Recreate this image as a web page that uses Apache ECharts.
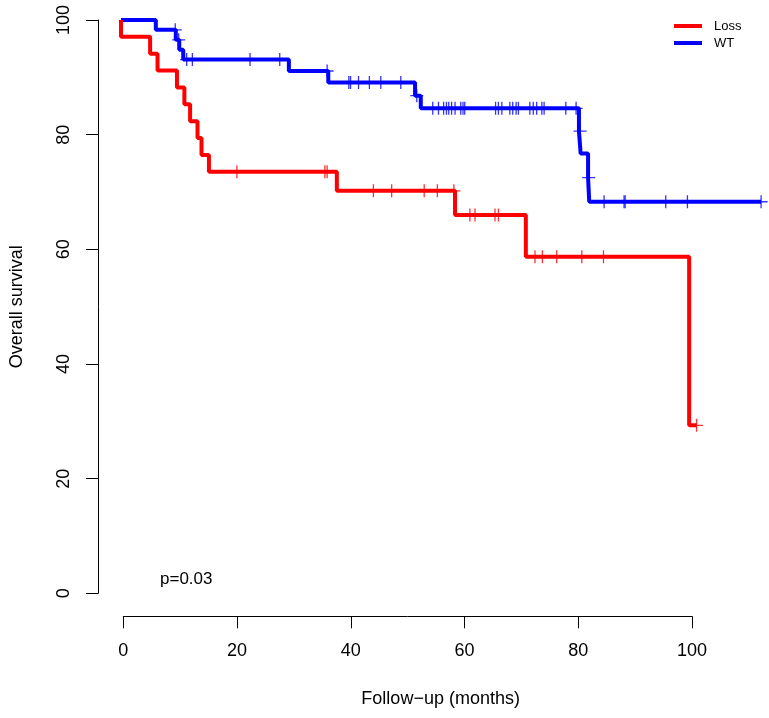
<!DOCTYPE html>
<html>
<head>
<meta charset="utf-8">
<script src="https://cdn.jsdelivr.net/npm/echarts@6/dist/echarts.min.js"></script>
<style>
  html, body { margin: 0; padding: 0; background: #ffffff; }
  #chart { width: 769px; height: 718px; }
</style>
</head>
<body>
<div id="chart"></div>
<script>
// ---- Data ----
const xTicks = [0, 20, 40, 60, 80, 100];
const yTicks = [0, 20, 40, 60, 80, 100];

const lossEventTimes = [0, 5.1, 6.4, 9.8, 11.1, 12.1, 13.4, 14.1, 15.4, 37.8, 58.5, 70.9, 99.5];
const lossEventSurv  = [97.06, 94.12, 91.18, 88.24, 85.29, 82.35, 79.41, 76.47, 73.53, 70.2, 66.0, 58.7, 29.3];
const lossCensorTimes = [20.3, 35.7, 36.1, 44.2, 47.4, 53.1, 55.4, 58.3, 61.1, 62.0, 65.5, 66.1,
                         72.5, 73.8, 76.3, 80.7, 84.5, 100.8];

const wtEventTimes = [6.1, 9.6, 10.2, 10.9, 29.4, 36.3, 51.5, 52.5, 80.2, 80.5, 81.8, 82.0];
const wtEventSurv  = [98.28, 96.55, 94.83, 93.10, 91.1, 89.1, 86.8, 84.6, 80.6, 76.7, 72.5, 68.3];
const wtCensorTimes = [9.5, 10.1, 11.5, 12.5, 22.6, 27.8, 36.1, 39.9, 40.2, 41.6, 43.5, 45.5, 49.0, 51.8,
                       54.6, 55.6, 56.5, 57.0, 57.4, 57.9, 58.5, 59.5, 59.9, 60.2,
                       65.6, 66.1, 66.7, 68.1, 68.6, 69.2, 69.6, 71.6, 72.2, 72.8, 73.7, 74.1,
                       77.9, 79.7, 80.4, 81.9, 84.6, 88.1, 88.3, 95.4, 99.2, 112.1];

const groupNames = ['Loss', 'WT'];
const groupColors = ['#FF0000', '#0000FF'];
const pValueText = 'p=0.03';
const xTitle = 'Follow\u2212up (months)';
const yTitle = 'Overall survival';

// ---- Helpers ----
function survAt(times, surv, t) {
  let s = 100;
  for (let i = 0; i < times.length; i++) { if (times[i] <= t) s = surv[i]; }
  return s;
}
function curve(times, surv, censors) {
  const pts = [[0, 100]];
  for (let i = 0; i < times.length; i++) pts.push([times[i], surv[i]]);
  const last = Math.max(times[times.length - 1], ...censors);
  pts.push([last, surv[surv.length - 1]]);
  return pts;
}
function censorPts(times, surv, censors) {
  return censors.map(t => [t, survAt(times, surv, t)]);
}

const plusPath = 'path://M-0.1,-1L0.1,-1L0.1,-0.1L1,-0.1L1,0.1L0.1,0.1L0.1,1L-0.1,1L-0.1,0.1L-1,0.1L-1,-0.1L-0.1,-0.1Z';
const FONT = '"Liberation Sans", Arial, Helvetica, sans-serif';

// Both grids share the same px-per-month scale (571 px for 100 months).
const CHART_W = 769;
const GRID_LEFT = 121;
const AXIS_W = 571;
const DATA_XMAX = (CHART_W - GRID_LEFT) / AXIS_W * 100;

const chart = echarts.init(document.getElementById('chart'), null, { renderer: 'canvas' });

chart.setOption({
  animation: false,
  backgroundColor: '#ffffff',
  textStyle: { fontFamily: FONT, color: '#000' },
  grid: [
    { left: GRID_LEFT, top: 20, right: 0, height: 573.3, containLabel: false },
    { left: GRID_LEFT, top: 20, width: AXIS_W, height: 573.3, containLabel: false }
  ],
  legend: {
    data: groupNames,
    orient: 'vertical',
    left: 669,
    top: 14,
    icon: 'rect',
    itemWidth: 28,
    itemHeight: 4,
    itemGap: 3,
    textStyle: { fontFamily: FONT, fontSize: 13, color: '#000', lineHeight: 14, padding: [0, 0, 0, 7] },
    selectedMode: false
  },
  xAxis: [
    { type: 'value', gridIndex: 0, min: 0, max: DATA_XMAX, show: false },
    {
      type: 'value', gridIndex: 1,
      min: xTicks[0],
      max: xTicks[xTicks.length - 1],
      interval: 20,
      offset: 23,
      name: xTitle,
      nameLocation: 'middle',
      nameGap: 74,
      nameTextStyle: { fontFamily: FONT, fontSize: 18, color: '#000', padding: [0, 0, 0, 66] },
      axisLine: { show: true, onZero: false, lineStyle: { color: '#000', width: 1 } },
      axisTick: { show: true, length: 12, lineStyle: { color: '#000', width: 1 } },
      axisLabel: { fontFamily: FONT, fontSize: 18, color: '#000', margin: 26 },
      splitLine: { show: false }
    }
  ],
  yAxis: [
    { type: 'value', gridIndex: 0, min: 0, max: 100, show: false },
    {
      type: 'value', gridIndex: 1,
      min: yTicks[0],
      max: yTicks[yTicks.length - 1],
      interval: 20,
      offset: 25.3,
      name: yTitle,
      nameLocation: 'middle',
      nameGap: 72,
      nameRotate: 90,
      nameTextStyle: { fontFamily: FONT, fontSize: 18, color: '#000' },
      axisLine: { show: true, onZero: false, lineStyle: { color: '#000', width: 1 } },
      axisTick: { show: true, length: 12, lineStyle: { color: '#000', width: 1 } },
      axisLabel: { fontFamily: FONT, fontSize: 18, color: '#000', margin: 25, rotate: 90 },
      splitLine: { show: false }
    }
  ],
  graphic: [{
    type: 'text',
    left: 160,
    top: 571,
    style: { text: pValueText, fontFamily: FONT, fontSize: 17, fill: '#000' }
  }],
  series: [
    {
      name: groupNames[1], type: 'line', step: 'end', clip: false, showSymbol: false,
      xAxisIndex: 0, yAxisIndex: 0,
      color: groupColors[1],
      lineStyle: { width: 4, color: groupColors[1] },
      data: curve(wtEventTimes, wtEventSurv, wtCensorTimes), z: 2
    },
    {
      name: groupNames[1] + ' censored', type: 'scatter', clip: false,
      xAxisIndex: 0, yAxisIndex: 0,
      symbol: plusPath, symbolSize: 13,
      itemStyle: { color: groupColors[1] },
      data: censorPts(wtEventTimes, wtEventSurv, wtCensorTimes), z: 3
    },
    {
      name: groupNames[0], type: 'line', step: 'end', clip: false, showSymbol: false,
      xAxisIndex: 0, yAxisIndex: 0,
      color: groupColors[0],
      lineStyle: { width: 4, color: groupColors[0] },
      data: curve(lossEventTimes, lossEventSurv, lossCensorTimes), z: 4
    },
    {
      name: groupNames[0] + ' censored', type: 'scatter', clip: false,
      xAxisIndex: 0, yAxisIndex: 0,
      symbol: plusPath, symbolSize: 13,
      itemStyle: { color: groupColors[0] },
      data: censorPts(lossEventTimes, lossEventSurv, lossCensorTimes), z: 5
    }
  ]
});
</script>
</body>
</html>
